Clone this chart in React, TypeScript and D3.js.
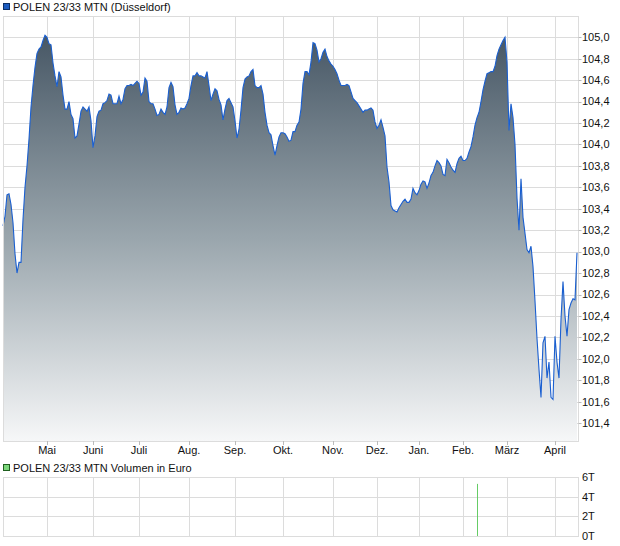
import React from "react";
import * as d3 from "d3";

// Daily closing prices (POLEN 23/33 MTN, Düsseldorf), one per trading point
const prices: number[] = [
  103.24, 103.33, 103.53, 103.54, 103.44, 103.27, 102.98, 102.80, 102.90, 102.90,
  103.30, 103.60, 103.80, 104.05, 104.35, 104.55, 104.72, 104.85, 104.89, 104.91,
  104.97, 105.02, 105.00, 104.94, 104.93, 104.76, 104.64, 104.54, 104.68, 104.63,
  104.46, 104.33, 104.33, 104.40, 104.28, 104.24, 104.06, 104.08, 104.19, 104.31,
  104.35, 104.33, 104.31, 104.35, 104.22, 103.97, 104.08, 104.26, 104.31, 104.32,
  104.38, 104.39, 104.41, 104.47, 104.46, 104.38, 104.38, 104.38, 104.45, 104.38,
  104.42, 104.52, 104.55, 104.55, 104.56, 104.55, 104.57, 104.59, 104.57, 104.46,
  104.49, 104.62, 104.59, 104.40, 104.38, 104.38, 104.33, 104.27, 104.28, 104.33,
  104.30, 104.28, 104.35, 104.53, 104.58, 104.54, 104.37, 104.28, 104.30, 104.34,
  104.33, 104.34, 104.38, 104.43, 104.55, 104.64, 104.64, 104.67, 104.64, 104.64,
  104.63, 104.62, 104.68, 104.55, 104.41, 104.47, 104.52, 104.50, 104.42, 104.37,
  104.23, 104.33, 104.41, 104.43, 104.39, 104.35, 104.22, 104.06, 104.14, 104.32,
  104.53, 104.61, 104.63, 104.64, 104.68, 104.70, 104.55, 104.53, 104.53, 104.55,
  104.47, 104.30, 104.18, 104.11, 104.09, 103.99, 103.90, 103.99, 104.07, 104.11,
  104.11, 104.10, 104.07, 104.03, 104.04, 104.12, 104.12, 104.18, 104.21, 104.33,
  104.57, 104.68, 104.68, 104.65, 104.77, 104.95, 104.94, 104.88, 104.77, 104.80,
  104.86, 104.89, 104.82, 104.78, 104.75, 104.73, 104.70, 104.66, 104.60, 104.55,
  104.55, 104.55, 104.56, 104.55, 104.49, 104.43, 104.41, 104.39, 104.36, 104.33,
  104.30, 104.32, 104.32, 104.33, 104.34, 104.32, 104.21, 104.15, 104.18, 104.23,
  104.16, 104.08, 103.79, 103.65, 103.43, 103.39, 103.38, 103.37, 103.41, 103.44,
  103.47, 103.49, 103.46, 103.46, 103.49, 103.59, 103.55, 103.53, 103.57, 103.63,
  103.66, 103.65, 103.59, 103.64, 103.71, 103.74, 103.80, 103.85, 103.83, 103.80,
  103.72, 103.71, 103.86, 103.83, 103.79, 103.76, 103.74, 103.82, 103.87, 103.89,
  103.85, 103.85, 103.87, 103.93, 103.98, 104.07, 104.18, 104.25, 104.30, 104.40,
  104.51, 104.59, 104.66, 104.67, 104.68, 104.68, 104.73, 104.83, 104.89, 104.93,
  104.97, 105.00, 104.77, 104.13, 104.38, 104.25, 104.00, 103.50, 103.20, 103.68,
  103.32, 103.17, 103.02, 102.99, 103.05, 102.86, 102.54, 102.19, 101.90, 101.64,
  102.15, 102.21, 101.82, 101.97, 101.64, 101.62, 102.21, 101.97, 101.82, 102.37,
  102.72, 102.40, 102.21, 102.46, 102.52, 102.56, 102.55, 102.99,
];

// Month labels and the index of the first trading point of each month
const monthLabels: string[] = ["Mai", "Juni", "Juli", "Aug.", "Sep.", "Okt.", "Nov.", "Dez.", "Jan.", "Feb.", "März", "April"];
const monthStartIdx: number[] = [22, 45, 68, 93, 116, 140, 165, 187, 208, 230, 252, 276];

// Price axis ticks
const priceTicks: number[] = [101.4, 101.6, 101.8, 102.0, 102.2, 102.4, 102.6, 102.8, 103.0, 103.2, 103.4, 103.6, 103.8, 104.0, 104.2, 104.4, 104.6, 104.8, 105.0];

// Volume (Euro)
const volumeTicks: number[] = [0, 2000, 4000, 6000];
const volumeTickLabels: string[] = ["0T", "2T", "4T", "6T"];
const volumeIdx: number[] = [237];
const volumeVals: number[] = [5300];

const title1 = "POLEN 23/33 MTN (Düsseldorf)";
const title2 = "POLEN 23/33 MTN Volumen in Euro";

const FONT = "'Liberation Sans', Arial, Helvetica, sans-serif";
const GRID = "#dcdcdc";

export default function App() {
  const W = 620, H = 546;
  const left = 3, right = 578;
  const top1 = 16, bottom1 = 441;
  const top2 = 477, bottom2 = 536;

  const x = d3.scaleLinear().domain([0, prices.length - 1]).range([3, 577]);
  const y = d3.scaleLinear().domain([101.4, 105.0]).range([423.1, 37.3]);
  const yv = d3.scaleLinear().domain([0, 6000]).range([bottom2, top2]);

  const area = d3.area<number>()
    .x((_, i) => x(i))
    .y0(bottom1)
    .y1((d) => y(d));
  const line = d3.line<number>()
    .x((_, i) => x(i))
    .y((d) => y(d));

  const px = (v: number) => Math.round(v) + 0.5;
  const fmt = (v: number) => v.toFixed(1).replace(".", ",");

  return (
    <svg width={W} height={H} style={{ position: "absolute", left: 0, top: 0, display: "block", background: "#fff" }}
      fontFamily={FONT} fontSize={11}>
      <defs>
        <linearGradient id="fillGrad" gradientUnits="userSpaceOnUse" x1={0} y1={37} x2={0} y2={bottom1}>
          <stop offset="0" stopColor="#485866" />
          <stop offset="0.5" stopColor="#9aa6ad" />
          <stop offset="1" stopColor="#f6f7f8" />
        </linearGradient>
      </defs>

      {/* Legend 1 */}
      <rect x={3.5} y={3.5} width={6} height={6} fill="#1c5cc0" stroke="#0d2f66" />
      <text x={13} y={11} fill="#111">{title1}</text>

      {/* Price panel grid */}
      {priceTicks.map((t) => (
        <line key={"h" + t} x1={left} x2={right} y1={px(y(t))} y2={px(y(t))} stroke={GRID} />
      ))}
      {monthStartIdx.map((m, i) => (
        <line key={"v" + i} x1={px(x(m))} x2={px(x(m))} y1={top1} y2={bottom1} stroke={GRID} />
      ))}

      {/* Area + line */}
      <path d={area(prices) || ""} fill="url(#fillGrad)" />
      <path d={line(prices) || ""} fill="none" stroke="#1a5fd0" strokeWidth={1.1} />

      {/* Frame */}
      <rect x={left + 0.5} y={top1 + 0.5} width={right - left} height={bottom1 - top1} fill="none" stroke={GRID} />

      {/* Y axis labels */}
      {priceTicks.map((t) => (
        <g key={"yl" + t}>
          <line x1={right + 0.5} x2={right + 3.5} y1={px(y(t))} y2={px(y(t))} stroke="#bbb" />
          <text x={582} y={y(t)} dy="0.35em" fill="#111">{fmt(t)}</text>
        </g>
      ))}

      {/* X axis labels */}
      {monthStartIdx.map((m, i) => (
        <g key={"xl" + i}>
          <line x1={px(x(m))} x2={px(x(m))} y1={bottom1} y2={bottom1 + 4} stroke="#bbb" />
          <text x={x(m)} y={454} textAnchor="middle" fill="#111">{monthLabels[i]}</text>
        </g>
      ))}

      {/* Legend 2 */}
      <rect x={3.5} y={464.5} width={6} height={6} fill="#7bd67b" stroke="#1f5f1f" />
      <text x={13} y={472} fill="#111">{title2}</text>

      {/* Volume panel grid */}
      {volumeTicks.map((t) => (
        <line key={"vh" + t} x1={left} x2={right} y1={px(yv(t))} y2={px(yv(t))} stroke={GRID} />
      ))}
      {monthStartIdx.map((m, i) => (
        <line key={"vv" + i} x1={px(x(m))} x2={px(x(m))} y1={top2} y2={bottom2} stroke={GRID} />
      ))}
      <line x1={left + 0.5} x2={left + 0.5} y1={top2} y2={bottom2} stroke={GRID} />
      <line x1={right + 0.5} x2={right + 0.5} y1={top2} y2={bottom2 + 1} stroke={GRID} />

      {/* Volume bars */}
      {volumeIdx.map((vi, k) => (
        <line key={"vb" + k} x1={px(x(vi))} x2={px(x(vi))} y1={yv(0)} y2={yv(volumeVals[k])} stroke="#66cc66" strokeWidth={1} />
      ))}

      {/* Volume axis labels */}
      {volumeTicks.map((t, i) => (
        <text key={"vl" + t} x={582} y={yv(t)} dy="0.35em" fill="#111">{volumeTickLabels[i]}</text>
      ))}
    </svg>
  );
}
